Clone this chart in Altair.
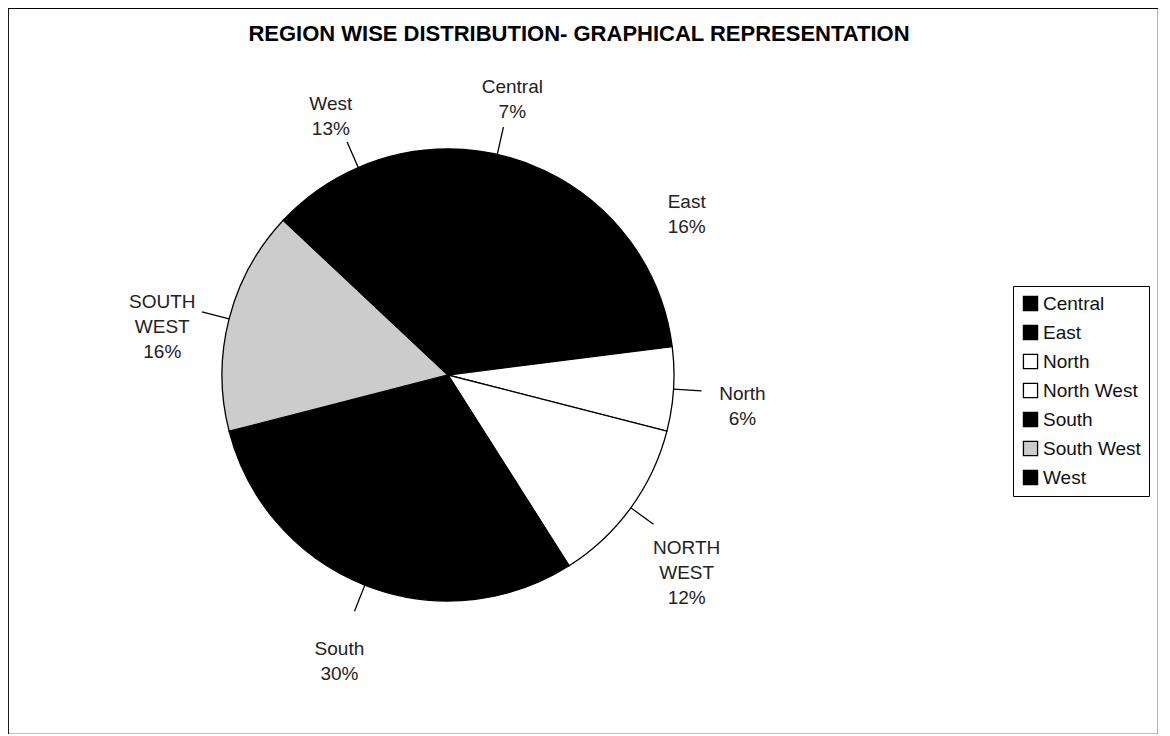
import altair as alt
import pandas as pd

regions = ["Central", "East", "North", "North West", "South", "South West", "West"]
shares = [7, 16, 6, 12, 30, 16, 13]
slice_labels = ["Central", "East", "North", "NORTH\nWEST", "South", "SOUTH\nWEST", "West"]
fills = ["#000000", "#000000", "#ffffff", "#ffffff", "#000000", "#cccccc", "#000000"]
title_text = "REGION WISE DISTRIBUTION- GRAPHICAL REPRESENTATION"

df = pd.DataFrame({
    "region": regions,
    "share": shares,
    "order": list(range(len(regions))),
    "label": [f"{n}\n{v}%" for n, v in zip(slice_labels, shares)],
})

W, H = 1150, 726
CX, CY = 440, 367
R = 226

theta_scale = alt.Scale(domain=[0, 100])

base = alt.Chart(df).encode(
    theta=alt.Theta("share:Q", stack=True, scale=theta_scale),
    order=alt.Order("order:Q"),
)

pie = base.mark_arc(stroke="#000000", strokeWidth=1.3, radius=R).encode(
    x=alt.value(CX),
    y=alt.value(CY),
    color=alt.Color(
        "region:N",
        sort=regions,
        scale=alt.Scale(domain=regions, range=fills),
        legend=alt.Legend(
            title=None,
            orient="none",
            legendX=1005,
            legendY=278,
            symbolType="square",
            symbolSize=200,
            symbolStrokeColor="#000000",
            symbolStrokeWidth=1.3,
            labelFont="Liberation Sans",
            labelFontSize=19,
            labelColor="#111111",
            labelOffset=3,
            rowPadding=8,
            strokeColor="#000000",
            padding=8,
            fillColor="#ffffff",
            labelLimit=250,
        ),
    ),
)

leaders = (
    alt.Chart(df)
    .transform_window(cum="sum(share)", sort=[alt.SortField("order")], frame=[None, 0])
    .transform_calculate(mid="datum.cum - datum.share / 2")
    .transform_filter("datum.region != 'East'")
    .mark_arc(stroke="#000000", strokeWidth=1.3, fill=None, radius=R, radius2=R + 28)
    .encode(
        x=alt.value(CX),
        y=alt.value(CY),
        theta=alt.Theta("mid:Q", scale=theta_scale),
        theta2="mid:Q",
    )
)

labels = base.mark_text(
    radius=295,
    font="Liberation Sans",
    fontSize=19,
    color="#222222",
    lineBreak="\n",
    lineHeight=25,
    align="center",
    baseline="middle",
).encode(x=alt.value(CX), y=alt.value(CY), text="label:N")

title = alt.Chart(pd.DataFrame({"t": [title_text]})).mark_text(
    font="Liberation Sans",
    fontSize=22,
    fontWeight="bold",
    color="#000000",
    align="center",
    baseline="middle",
).encode(x=alt.value(571), y=alt.value(26), text="t:N")

chart = (
    alt.layer(pie, leaders, labels, title)
    .properties(width=W, height=H, padding=0)
    .configure_view(stroke="#000000", strokeWidth=1.2)
)

chart.save("out.html", embed_options={"renderer": "svg", "actions": False})
